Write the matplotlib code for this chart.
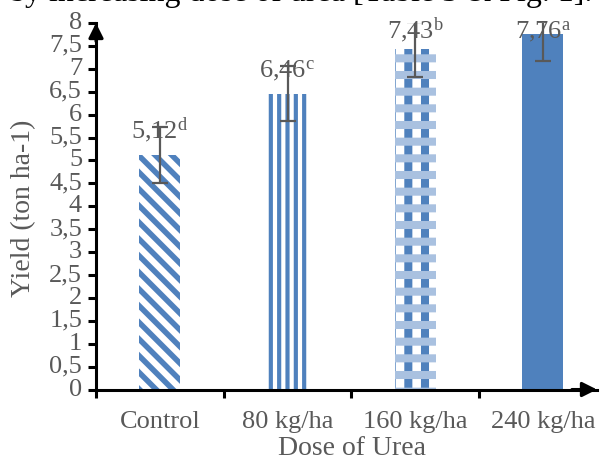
import numpy as np
import matplotlib
matplotlib.use("Agg")
import matplotlib.pyplot as plt
from matplotlib.ticker import FuncFormatter, MultipleLocator

# ---- data ----
categories = ["Control", "80 kg/ha", "160 kg/ha", "240 kg/ha"]
yield_vals = [5.12, 6.46, 7.43, 7.76]
errors = [0.62, 0.60, 0.60, 0.60]
letters = ["d", "c", "b", "a"]
value_text = ["5,12", "6,46", "7,43", "7,76"]
top_text = "by increasing dose of urea [Table 3 & Fig. 1]."

BLUE = "#4F81BD"
LIGHT = "#A9C1E0"
GREY = "#595959"

plt.rcParams["font.family"] = ["Liberation Serif", "DejaVu Serif"]
plt.rcParams["mathtext.fontset"] = "custom"
plt.rcParams["mathtext.rm"] = "Liberation Serif"
plt.rcParams["mathtext.it"] = "Liberation Serif:italic"
FS = 19

fig = plt.figure(figsize=(6, 4.61), dpi=100)
W, H = 600, 461
x0, x1 = 96, 597
y0, y8 = 389.5, 23
ax = fig.add_axes([x0 / W, (H - y0) / H, (x1 - x0) / W, (y0 - y8) / H])

x = np.arange(len(categories))
cat_w = 127.67
ax.set_xlim(-0.5, -0.5 + (x1 - x0) / cat_w)
ax.set_ylim(0, 8)


def set_hlw(p, lw):
    if hasattr(p, "set_hatch_linewidth"):
        p.set_hatch_linewidth(lw)


hatches = ["\\\\", "||", "|", None]
hlws = [4.0, 3.0, 5.8, 1.0]
bars = ax.bar(x, yield_vals, width=0.32, color="white", edgecolor=BLUE,
              linewidth=0, zorder=2)
for p, h, lw in zip(bars.patches, hatches, hlws):
    if h is None:
        p.set_facecolor(BLUE)
    else:
        p.set_hatch(h)
        set_hlw(p, lw)

# horizontal checker-like bands for the 160 kg/ha bar
over = ax.bar(x[2:3], yield_vals[2:3], width=0.32, facecolor="none",
              edgecolor=LIGHT, linewidth=0, hatch="-", zorder=2.5)
for p in over.patches:
    set_hlw(p, 5.8)

ax.errorbar(x, yield_vals, yerr=errors, fmt="none", ecolor=GREY,
            elinewidth=1.6, capsize=5.5, capthick=1.6, zorder=4)

label_y = np.minimum(np.array(yield_vals) + 0.37, 7.67)
for xi, yi, t, l in zip(x, label_y, value_text, letters):
    ax.text(xi, yi, t + r"$^{\mathrm{" + l + r"}}$", ha="center", va="baseline",
            fontsize=FS, color=GREY, zorder=3)

# axes styling
for s in ["top", "right"]:
    ax.spines[s].set_visible(False)
for s in ["left", "bottom"]:
    ax.spines[s].set_linewidth(2.2)
    ax.spines[s].set_color("black")

ax.yaxis.set_major_locator(MultipleLocator(0.5))
ax.yaxis.set_major_formatter(FuncFormatter(lambda v, p: f"{v:g}".replace(".", ",")))
ax.set_xticks(x - 0.5)
ax.set_xticklabels([])
ax.set_xticks(x, minor=True)
ax.set_xticklabels(categories, minor=True)
ax.tick_params(axis="x", which="major", direction="out", length=6, width=2.2, color="black")
ax.tick_params(axis="x", which="minor", length=0, pad=15.5, labelsize=FS, labelcolor=GREY)
ax.tick_params(axis="y", direction="out", length=6, width=2.2, color="black",
               labelsize=FS, labelcolor=GREY, pad=4)
for lab in ax.get_yticklabels():
    lab.set_va("center")

# arrow heads
ax.annotate("", xy=(0, 1.0), xytext=(0, 0.95), xycoords="axes fraction",
            arrowprops=dict(arrowstyle="-|>", color="black", lw=2.2,
                            mutation_scale=22, shrinkA=0, shrinkB=0), zorder=5)
ax.annotate("", xy=(1.0, 0), xytext=(0.95, 0), xycoords="axes fraction",
            arrowprops=dict(arrowstyle="-|>", color="black", lw=2.2,
                            mutation_scale=22, shrinkA=0, shrinkB=0), zorder=5)

ax.set_ylabel("Yield (ton ha-1)", fontsize=20, color=GREY)
ax.yaxis.label.set_va("center")
ax.yaxis.set_label_coords((24 - x0) / (x1 - x0), (y0 - 208) / (y0 - y8))
ax.set_xlabel("Dose of Urea", fontsize=20, color=GREY)
ax.xaxis.set_label_coords((352 - x0) / (x1 - x0), (y0 - 455) / (y0 - y8))
ax.xaxis.label.set_va("baseline")

fig.text(592 / W, 1 - 0.5 / H, top_text, ha="right", va="baseline",
         fontsize=23, color="black")

fig.savefig("out.png", dpi=100)
